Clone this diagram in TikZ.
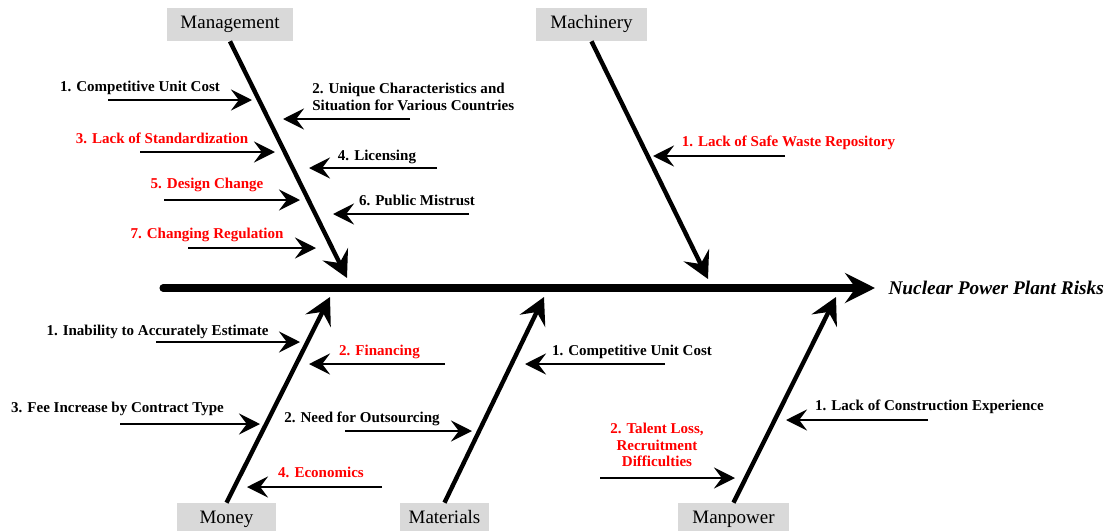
\documentclass[tikz,border=0pt]{standalone}
\usepackage{fontspec}
\setmainfont{Liberation Serif}
\definecolor{FishRed}{RGB}{255,0,0}
\definecolor{FishGray}{RGB}{217,217,217}
\usetikzlibrary{positioning, arrows.meta, calc}

\begin{document}
\begin{tikzpicture}[
  x=0.02cm, y=-0.02cm,
  catbox/.style={rectangle, fill=FishGray, inner sep=0pt, minimum height=0.66cm, font=\fontsize{10.8}{12}\selectfont, text height=0.68em, text depth=0.22em},
  spine/.style={-{Stealth[length=17pt, width=17pt, inset=6pt]}, line width=4pt, line cap=round},
  bone/.style={-{Stealth[length=15pt, width=16pt, inset=5.5pt]}, line width=2.5pt},
  cause/.style={-{Stealth[length=12pt, width=12pt, inset=4.5pt]}, line width=1.3pt},
  multilab/.style={font=\bfseries\fontsize{8.55}{9.3}\selectfont, inner sep=0pt, align=center},
  lab/.style={multilab, text height=0.7em, text depth=0.2em},
  risk/.style={lab, text=FishRed},
  multirisk/.style={multilab, text=FishRed},
  effect/.style={font=\bfseries\itshape\fontsize{11}{13}\selectfont, inner sep=7.5pt, anchor=west}
]
\useasboundingbox (0,0) rectangle (1107,531);

% Categories
\node[catbox, minimum width=2.52cm] (mgmt) at (230,24.5) {Management};
\node[catbox, minimum width=2.22cm] (mach) at (591.5,24.5) {Machinery};
\node[catbox, minimum width=1.98cm] (money) at (226.5,519.5) {Money};
\node[catbox, minimum width=1.78cm] (mat) at (444.5,519.5) {Materials};
\node[catbox, minimum width=2.22cm] (man) at (733.5,519.5) {Manpower};

% Spine + effect
\coordinate (tail) at (163,288);
\node[effect] (effect) at (875,288) {Nuclear Power Plant Risks};
\draw[spine] (tail) -- (effect);

% Bones
\coordinate (mgmtTip) at (347,278);
\coordinate (machTip) at (708,279);
\coordinate (moneyTip) at (330,297);
\coordinate (matTip) at (544,297);
\coordinate (manTip) at (836,297);
\draw[bone] (mgmt.south) -- (mgmtTip);
\draw[bone] (mach.south) -- (machTip);
\draw[bone] (money.north) -- (moneyTip);
\draw[bone] (mat.north) -- (matTip);
\draw[bone] (man.north) -- (manTip);

% Causes: name/start/end/y
\foreach \n/\xa/\xb/\y in {m1/108/252/100, m2/410/283/119, m3/140/275/152, m4/437/309/168,
    m5/164/300/200, m6/469/333/214, m7/188/316/248, mc1/785/653/156,
    mo1/156/300/342, mo2/445/309/364, mo3/120/260/424, mo4/382/247/487,
    ma1/665/525/364, ma2/345/472/431, mp1/928/786/420, mp2/600/735/478}{
  \coordinate (\n a) at (\xa,\y);
  \coordinate (\n b) at (\xb,\y);
  \draw[cause] (\n a) -- (\n b);
}

% Management
\node[lab] (l-m1) at (140,87) {1. Competitive Unit Cost};
\node[multilab, align=left, anchor=west] (l-m2) at (312,97) {2. Unique Characteristics and\\Situation for Various Countries};
\node[risk] (l-m3) at (162,139) {3. Lack of Standardization};
\node[lab] (l-m4) at (377,156) {4. Licensing};
\node[risk] (l-m5) at (207,184) {5. Design Change};
\node[lab] (l-m6) at (417,201) {6. Public Mistrust};
\node[risk] (l-m7) at (207,234) {7. Changing Regulation};

% Machinery
\node[risk] (l-mc1) at (788.5,142) {1. Lack of Safe Waste Repository};

% Money
\node[lab] (l-mo1) at (157.5,331) {1. Inability to Accurately Estimate};
\node[risk] (l-mo2) at (379.5,351) {2. Financing};
\node[lab] (l-mo3) at (117.5,408) {3. Fee Increase by Contract Type};
\node[risk] (l-mo4) at (321,473) {4. Economics};

% Materials
\node[lab] (l-ma1) at (632,351) {1. Competitive Unit Cost};
\node[lab] (l-ma2) at (362,418) {2. Need for Outsourcing};

% Manpower
\node[lab] (l-mp1) at (929.5,406) {1. Lack of Construction Experience};
\node[multirisk] (l-mp2) at (657,445) {2. Talent Loss,\\Recruitment\\Difficulties};

\end{tikzpicture}
\end{document}
